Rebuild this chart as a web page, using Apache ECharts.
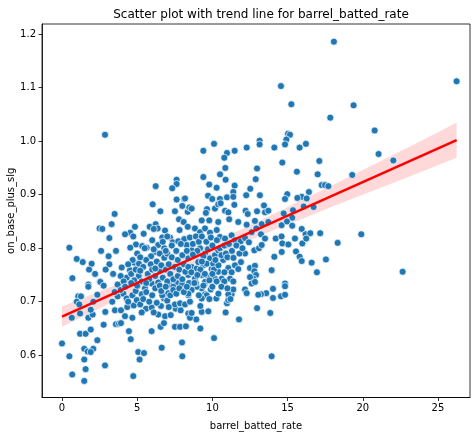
<!DOCTYPE html>
<html>
<head>
<meta charset="utf-8">
<script src="https://cdn.jsdelivr.net/npm/echarts@6/dist/echarts.min.js"></script>
<style>
html,body{margin:0;padding:0;background:#fff;}
#c{width:474px;height:437px;}
</style>
</head>
<body>
<div id="c"></div>
<script>
// x ticks and y ticks
const xTicks = [0, 5, 10, 15, 20, 25];
const yTicks = [0.6, 0.7, 0.8, 0.9, 1.0, 1.1, 1.2];

// [barrel_batted_rate, on_base_plus_slg]
const players = [
[2.86,1.012],[6.23,0.916],[7.62,0.928],[7.62,0.920],[7.33,0.912],[7.62,0.891],[8.13,0.892],
[14.56,1.103],[15.25,1.069],[17.84,1.044],[15.03,1.014],[15.16,1.012],[14.92,1.003],[14.83,0.994],
[13.14,1.001],[13.14,0.994],[16.22,0.995],[15.80,0.988],[14.12,0.988],[12.28,0.988],[11.48,0.982],
[10.97,0.978],[10.79,0.969],[10.11,0.995],[9.40,0.982],[14.65,0.960],[17.11,0.963],[10.86,0.950],
[12.97,0.949],[15.62,0.943],[10.51,0.938],[17.00,0.938],[9.40,0.933],[10.88,0.928],[12.88,0.929],
[9.79,0.919],[11.48,0.917],[10.28,0.913],[12.52,0.911],[11.39,0.905],[17.27,0.918],[17.49,0.918],
[17.71,0.916],[16.42,0.905],[9.71,0.898],[12.25,0.899],[13.16,0.899],[14.98,0.901],[15.94,0.896],
[16.27,0.893],[10.97,0.895],[11.39,0.896],[10.50,0.892],[9.99,0.892],[14.83,0.892],[8.18,0.893],
[18.08,1.186],[26.24,1.112],[19.39,1.067],[20.79,1.020],[21.05,0.976],[22.03,0.964],[19.30,0.937],
[19.90,0.826],[18.33,0.810],[17.55,0.779],[22.65,0.756],
[6.03,0.882],[8.00,0.879],[7.51,0.869],[6.54,0.869],[3.50,0.864],[8.36,0.868],[7.78,0.854],
[8.09,0.849],[3.30,0.845],[2.50,0.837],[2.68,0.836],[4.85,0.840],[5.83,0.840],[6.23,0.845],
[6.36,0.837],[6.10,0.836],[7.82,0.834],[4.54,0.829],[4.19,0.826],[4.74,0.822],[5.43,0.827],
[6.85,0.833],[6.67,0.820],[3.15,0.819],[4.92,0.807],[4.54,0.801],[5.34,0.804],[5.63,0.801],
[6.40,0.806],[6.18,0.793],[5.92,0.785],[7.18,0.820],[7.36,0.811],[7.73,0.813],[8.13,0.817],
[8.36,0.806],[0.49,0.801],[3.59,0.795],[0.98,0.780],[1.38,0.774],[1.97,0.771],[3.15,0.770],
[3.97,0.764],[4.81,0.773],[4.52,0.759],[5.12,0.771],[0.69,0.744],[1.75,0.732],[2.53,0.738],[3.68,0.732],
[15.65,0.894],[16.07,0.878],[16.73,0.877],[8.47,0.876],[8.62,0.874],[9.64,0.873],[10.17,0.874],
[10.39,0.882],[10.55,0.884],[9.57,0.866],[11.46,0.881],[10.84,0.870],[11.06,0.867],[12.21,0.870],
[12.35,0.864],[12.97,0.869],[13.43,0.880],[13.50,0.867],[13.72,0.870],[14.74,0.865],[15.31,0.857],
[15.36,0.871],[9.29,0.852],[9.79,0.852],[10.39,0.849],[11.12,0.854],[11.72,0.849],[12.28,0.844],
[12.83,0.851],[13.28,0.845],[13.72,0.849],[14.60,0.843],[14.96,0.850],[15.31,0.842],[15.94,0.836],
[16.20,0.826],[16.51,0.828],[17.17,0.828],[8.36,0.840],[8.84,0.837],[9.18,0.830],[9.51,0.837],
[9.84,0.829],[10.29,0.834],[10.50,0.821],[10.84,0.818],[11.28,0.824],[11.50,0.815],[11.88,0.813],
[12.17,0.819],[12.43,0.811],[12.61,0.830],[12.92,0.837],[13.23,0.826],[13.50,0.818],[14.21,0.818],
[14.60,0.822],[14.65,0.809],[15.05,0.807],[15.49,0.818],[15.98,0.809],[16.24,0.818],[12.79,0.796],
[13.10,0.800],[13.28,0.806],[12.17,0.790],[14.12,0.784],[14.61,0.793],[15.56,0.794],[15.80,0.784],
[15.94,0.776],[16.60,0.773],[16.95,0.755],[12.50,0.763],[12.83,0.767],[12.79,0.757],[12.90,0.750],
[12.72,0.743],[12.50,0.746],[13.94,0.759],[14.83,0.734],[11.90,0.774],[11.50,0.768],[11.06,0.763],
[11.28,0.755],[11.72,0.761],[10.39,0.756],[10.17,0.743],[10.62,0.743],[11.17,0.743],[9.95,0.761],
[8.62,0.765],[8.96,0.762],[9.40,0.768],[9.29,0.750],[9.73,0.746],[9.51,0.734],[8.84,0.743],
[8.40,0.750],[8.29,0.806],[8.62,0.796],[8.84,0.787],[9.18,0.800],[9.51,0.790],[9.84,0.781],
[10.17,0.787],[10.39,0.796],[10.72,0.778],[8.40,0.781],[9.06,0.774],[9.62,0.771],[10.06,0.771],
[0.00,0.622],[0.49,0.598],[0.68,0.564],[1.48,0.552],[1.57,0.574],[1.48,0.592],[2.86,0.581],
[1.20,0.640],[1.57,0.640],[1.91,0.648],[2.35,0.628],[2.08,0.612],[1.48,0.612],[1.71,0.607],
[1.91,0.606],[2.77,0.657],[2.88,0.681],[3.59,0.658],[3.79,0.659],[3.92,0.660],[4.45,0.645],
[4.57,0.630],[5.07,0.606],[5.45,0.604],[5.16,0.592],[4.74,0.561],[5.96,0.645],[6.63,0.614],
[7.98,0.624],[8.00,0.598],[6.56,0.653],[6.78,0.660],[7.51,0.653],[7.85,0.653],[1.75,0.670],
[2.04,0.676],[1.91,0.685],[1.20,0.678],[0.65,0.670],[1.08,0.710],[1.26,0.710],[0.98,0.700],
[1.15,0.695],[1.75,0.728],[2.35,0.713],[2.08,0.700],[2.55,0.737],[2.77,0.730],[3.34,0.700],
[3.70,0.710],[3.70,0.732],[4.08,0.715],[4.30,0.706],[4.68,0.712],[4.90,0.720],[3.52,0.684],
[3.92,0.684],[4.19,0.673],[4.68,0.670],[4.34,0.690],[4.77,0.693],[5.59,0.687],[5.96,0.689],
[6.40,0.676],[6.85,0.673],[7.23,0.675],[7.56,0.687],[7.89,0.684],[7.51,0.695],[7.85,0.697],
[6.58,0.692],[6.78,0.706],[6.67,0.712],[7.07,0.716],[7.25,0.731],[7.62,0.735],[7.99,0.733],
[8.40,0.712],[8.18,0.695],[8.40,0.678],[5.96,0.734],[5.52,0.725],[5.30,0.714],[4.97,0.703],
[10.11,0.632],[13.94,0.598],[11.77,0.667],[9.20,0.650],[8.24,0.654],[8.93,0.667],[8.51,0.670],
[8.62,0.679],[9.29,0.681],[9.73,0.682],[10.88,0.680],[9.20,0.692],[10.97,0.697],[11.06,0.703],
[12.97,0.688],[13.85,0.679],[14.03,0.707],[14.56,0.710],[14.83,0.713],[14.83,0.729],[14.03,0.724],
[13.58,0.716],[13.23,0.714],[13.05,0.713],[12.17,0.723],[12.28,0.716],[12.61,0.734],[12.83,0.737],
[11.28,0.714],[11.06,0.714],[11.39,0.723],[10.26,0.706],[9.89,0.723],[9.51,0.714],[9.29,0.725],
[8.96,0.728],[8.62,0.722],[8.40,0.715],[8.51,0.700],[9.62,0.712],[9.29,0.706],[10.79,0.738],
[10.28,0.738],[9.51,0.737],[11.39,0.738],
[4.30,0.745],[4.60,0.752],[4.90,0.760],[5.10,0.748],[5.30,0.738],[5.40,0.765],[5.60,0.778],
[5.70,0.752],[5.80,0.742],[5.90,0.770],[6.00,0.760],[6.10,0.798],[6.20,0.748],[6.30,0.775],
[6.40,0.736],[6.50,0.790],[6.50,0.758],[6.60,0.768],[6.70,0.745],[6.80,0.800],[6.80,0.782],
[6.90,0.760],[7.00,0.738],[7.00,0.790],[7.10,0.770],[7.20,0.752],[7.30,0.805],[7.30,0.783],
[7.40,0.742],[7.50,0.765],[7.60,0.795],[7.70,0.778],[7.70,0.748],[7.80,0.760],[7.90,0.808],
[8.00,0.787],[8.00,0.742],[8.10,0.770],[8.20,0.756],[8.30,0.795],[8.45,0.735],[8.40,0.765],
[5.00,0.790],[5.20,0.783],[4.70,0.778],[4.40,0.770],[5.50,0.800],[6.00,0.815],[6.70,0.812],
[7.00,0.822],[5.20,0.758],[6.20,0.762],[7.40,0.728],[6.90,0.795],[5.60,0.735],[4.80,0.740],
[3.90,0.748],[4.10,0.738],[3.40,0.752],[2.90,0.760],[2.20,0.752],[3.10,0.785],[2.60,0.795],[1.80,0.760],
[8.50,0.820],[8.70,0.808],[8.90,0.822],[9.00,0.795],[9.10,0.812],[9.30,0.822],[9.40,0.785],
[9.60,0.812],[9.70,0.798],[9.90,0.820],[10.00,0.805],[10.10,0.760],[10.30,0.815],[10.50,0.800],
[10.60,0.787],[10.80,0.805],[10.90,0.790],[8.60,0.755],[8.90,0.735],[9.20,0.760],[9.50,0.752],
[9.80,0.740],[10.00,0.752],[10.40,0.768],[10.80,0.755],[8.70,0.788],[9.30,0.775],[10.20,0.778],
[9.00,0.750],[11.00,0.783],[11.30,0.795],[11.60,0.805],[11.40,0.782],[11.80,0.790],[12.00,0.800],[11.10,0.808],
[3.50,0.718],[3.90,0.722],[4.20,0.728],[4.40,0.700],[4.60,0.735],[5.00,0.730],[5.20,0.695],
[5.40,0.705],[5.60,0.718],[5.80,0.700],[6.00,0.712],[6.20,0.725],[6.30,0.698],[6.50,0.730],
[6.60,0.720],[6.90,0.728],[7.00,0.702],[7.20,0.712],[7.40,0.722],[7.60,0.715],[7.80,0.725],
[8.10,0.718],[8.30,0.728],[6.10,0.680],[7.10,0.690],[5.30,0.680],
[8.80,0.735],[9.10,0.712],[9.40,0.730],[9.80,0.705],[10.00,0.728],[10.40,0.715],[10.60,0.728],
[11.00,0.725],[11.20,0.705]
];

// regression trend line end points
const trendX = [0, 26.24];
const trendY = [0.672, 1.002];

// 95% confidence band
const ciX     = [0,     2,     4,     6,     8,     10,    12,    14,    16,    18,    20,    22,    24,    26.24];
const ciLower = [0.653, 0.681, 0.708, 0.734, 0.760, 0.785, 0.809, 0.833, 0.855, 0.878, 0.900, 0.922, 0.944, 0.969];
const ciUpper = [0.691, 0.714, 0.736, 0.760, 0.784, 0.810, 0.836, 0.863, 0.891, 0.918, 0.946, 0.974, 1.002, 1.035];

const FONT = 'DejaVu Sans';
const chart = echarts.init(document.getElementById('c'));
const axisCommon = {
  type: 'value',
  axisLine: { show: true, onZero: false, lineStyle: { color: '#000', width: 0.8 } },
  axisTick: { show: true, inside: false, length: 3.5, lineStyle: { color: '#000', width: 0.8 } },
  splitLine: { show: false },
  nameLocation: 'middle',
  nameMoveOverlap: false,
  nameTextStyle: { fontFamily: FONT, fontSize: 10, color: '#000' }
};
chart.setOption({
  animation: false,
  backgroundColor: '#fff',
  title: {
    text: 'Scatter plot with trend line for barrel_batted_rate',
    left: 256, top: 4, textAlign: 'center',
    textStyle: { fontFamily: FONT, fontSize: 12, fontWeight: 'normal', color: '#000' }
  },
  grid: { left: 42, right: 4, top: 24, bottom: 39.5, show: true, borderColor: '#000', borderWidth: 0.8,
          containLabel: false, outerBoundsMode: 'none' },
  xAxis: Object.assign({}, axisCommon, {
    min: -1.33, max: 27.13,
    axisTick: Object.assign({}, axisCommon.axisTick, { customValues: xTicks }),
    axisLabel: { customValues: xTicks, color: '#000', fontFamily: FONT, fontSize: 10, margin: 6 },
    name: 'barrel_batted_rate', nameGap: 24
  }),
  yAxis: Object.assign({}, axisCommon, {
    min: 0.521, max: 1.219,
    axisTick: Object.assign({}, axisCommon.axisTick, { customValues: yTicks }),
    axisLabel: { customValues: yTicks, color: '#000', fontFamily: FONT, fontSize: 10, margin: 6,
      formatter: v => v.toFixed(1) },
    name: 'on_base_plus_slg', nameGap: 26
  }),
  series: [
    {
      type: 'scatter',
      data: players,
      symbolSize: 7,
      itemStyle: { color: '#1f77b4', borderColor: '#fff', borderWidth: 0.7, opacity: 1 },
      silent: true
    },
    {
      type: 'custom',
      silent: true,
      data: [[ciX[0], ciLower[0]]],
      renderItem: function (params, api) {
        const pts = [];
        for (let i = 0; i < ciX.length; i++) pts.push(api.coord([ciX[i], ciUpper[i]]));
        for (let i = ciX.length - 1; i >= 0; i--) pts.push(api.coord([ciX[i], ciLower[i]]));
        return { type: 'polygon', shape: { points: pts, smooth: 0 }, style: { fill: 'rgba(255,0,0,0.15)' } };
      }
    },
    {
      type: 'line',
      data: trendX.map((x, i) => [x, trendY[i]]),
      symbol: 'none',
      lineStyle: { color: '#ff0000', width: 2.5 },
      silent: true
    }
  ]
});
</script>
</body>
</html>
